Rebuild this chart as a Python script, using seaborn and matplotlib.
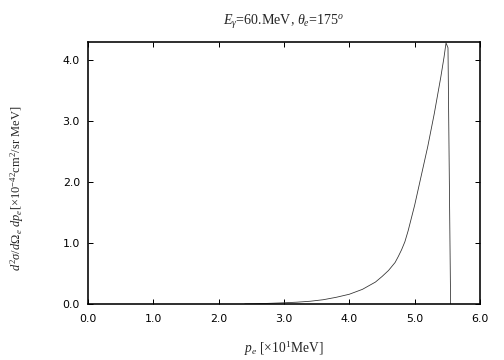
import matplotlib
matplotlib.use("Agg")
import matplotlib.pyplot as plt
import seaborn as sns
import numpy as np

p_e = [2.4, 2.6, 2.8, 3.0, 3.2, 3.4, 3.6, 3.8, 4.0, 4.2, 4.4, 4.5, 4.6, 4.7, 4.75, 4.8,
       4.85, 4.9, 5.0, 5.1, 5.2, 5.3, 5.4, 5.45, 5.48, 5.51, 5.55]
xsec = [0.0, 0.005, 0.012, 0.02, 0.03, 0.045, 0.07, 0.11, 0.16, 0.24, 0.36, 0.45, 0.55,
        0.68, 0.78, 0.89, 1.02, 1.2, 1.62, 2.1, 2.58, 3.12, 3.72, 4.05, 4.28, 4.2, 0.0]
xticks = [0.0, 1.0, 2.0, 3.0, 4.0, 5.0, 6.0]
yticks = [0.0, 1.0, 2.0, 3.0, 4.0]

sns.set_style("ticks")
plt.rcParams['font.family'] = ['DejaVu Sans']
plt.rcParams['mathtext.fontset'] = 'custom'
plt.rcParams['mathtext.rm'] = 'Liberation Serif'
plt.rcParams['mathtext.it'] = 'Liberation Serif:italic'
plt.rcParams['mathtext.bf'] = 'Liberation Serif:bold'

fig = plt.figure(figsize=(7, 5), dpi=72)
ax = fig.add_axes([88/504, 1-304/360, (480-88)/504, (304-42)/360])
sns.lineplot(x=p_e, y=xsec, ax=ax, color='#333333', lw=0.8, sort=False)
ax.set_xlim(0, 6)
ax.set_ylim(0, 4.295)
ax.set_xticks(xticks)
ax.set_xticklabels([f"{v:.1f}" for v in xticks])
ax.set_yticks(yticks)
ax.set_yticklabels([f"{v:.1f}" for v in yticks])
ax.tick_params(direction='in', length=5, width=1, top=True, right=True,
               labelsize=11, colors='black')
ax.tick_params(axis='x', pad=10)
ax.tick_params(axis='y', pad=8)
for s in ax.spines.values():
    s.set_linewidth(1.6)
    s.set_color('black')

serif = ['Liberation Serif', 'DejaVu Serif']
ax.set_title(r'$E_\gamma$=60.MeV, $\theta_e$=175$^o$', fontsize=14, family=serif, pad=17)
ax.set_xlabel(r'$p_e$ [$\times$10$^1$MeV]', fontsize=13.5, family=serif)
ax.set_ylabel(r'$d^2\sigma/d\Omega_e$ $dp_e$[$\times$10$^{-42}$cm$^2$/sr MeV]',
              fontsize=12.5, family=serif)
ax.xaxis.set_label_coords(0.5, (304-349)/262)
ax.yaxis.set_label_coords((17-88)/392, (304-188)/262)
ax.xaxis.label.set_va('center')
ax.yaxis.label.set_va('center')
fig.savefig("out.png", dpi=72)
